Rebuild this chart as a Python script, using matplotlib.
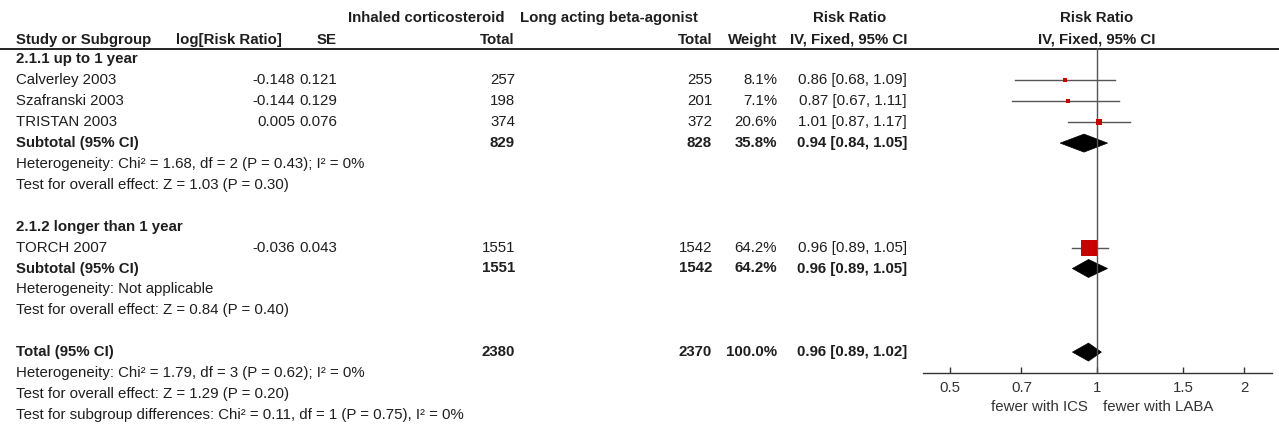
import matplotlib
matplotlib.use("Agg")
import matplotlib.pyplot as plt
from matplotlib.patches import Polygon

# ---- data ----
studies = ["Calverley 2003", "Szafranski 2003", "TRISTAN 2003", "TORCH 2007"]
study_group = [0, 0, 0, 1]
log_rr = ["-0.148", "-0.144", "0.005", "-0.036"]
se = ["0.121", "0.129", "0.076", "0.043"]
ics_total = [257, 198, 374, 1551]
laba_total = [255, 201, 372, 1542]
weight = [8.1, 7.1, 20.6, 64.2]
rr = [0.86, 0.87, 1.01, 0.96]
rr_lo = [0.68, 0.67, 0.87, 0.89]
rr_hi = [1.09, 1.11, 1.17, 1.05]

groups = ["2.1.1 up to 1 year", "2.1.2 longer than 1 year"]
sub_ics = [829, 1551]
sub_laba = [828, 1542]
sub_weight = [35.8, 64.2]
sub_rr = [0.94, 0.96]
sub_lo = [0.84, 0.89]
sub_hi = [1.05, 1.05]
sub_het = ["Heterogeneity: Chi\u00b2 = 1.68, df = 2 (P = 0.43); I\u00b2 = 0%",
           "Heterogeneity: Not applicable"]
sub_test = ["Test for overall effect: Z = 1.03 (P = 0.30)",
            "Test for overall effect: Z = 0.84 (P = 0.40)"]

tot_ics = 2380
tot_laba = 2370
tot_weight = 100.0
tot_rr = 0.96
tot_lo = 0.89
tot_hi = 1.02
tot_notes = ["Heterogeneity: Chi\u00b2 = 1.79, df = 3 (P = 0.62); I\u00b2 = 0%",
             "Test for overall effect: Z = 1.29 (P = 0.20)",
             "Test for subgroup differences: Chi\u00b2 = 0.11, df = 1 (P = 0.75), I\u00b2 = 0%"]

xticks = [0.5, 0.7, 1, 1.5, 2]
xtick_labels = ["0.5", "0.7", "1", "1.5", "2"]
left_label = "fewer with ICS"
right_label = "fewer with LABA"

# ---- layout (pixels) ----
W, H = 1279, 430
FS = 10.8
TXT = "#1e1e1e"
RED = "#c80000"
plt.rcParams["font.family"] = ["Liberation Sans", "DejaVu Sans"]

row0, dy = 59.5, 20.9
def row_y(i):
    return row0 + i * dy

# column anchors
X_NAME = 16
X_LOG = 295
X_SE = 337
X_ICS = 515
X_LABA = 712
X_WT = 777
X_CI = 907
X_ONE = 1097

fig = plt.figure(figsize=(W / 100, H / 100), dpi=100)
tx = fig.add_axes([0, 0, 1, 1])
tx.set_xlim(0, W)
tx.set_ylim(H, 0)
tx.axis("off")

# forest axes sits on the right, sharing the pixel rows
AX_L, AX_R, AX_T, AX_B = 923, 1272, 48, 373
fx = fig.add_axes([AX_L / W, 1 - AX_B / H, (AX_R - AX_L) / W, (AX_B - AX_T) / H])
fx.set_xscale("log")
fx.set_xlim(0.44, 2.28)
fx.set_ylim(AX_B, AX_T)
fx.patch.set_alpha(0)
for s in ["top", "left", "right"]:
    fx.spines[s].set_visible(False)
fx.spines["bottom"].set_color("#333333")
fx.spines["bottom"].set_linewidth(1.0)
fx.set_yticks([])
fx.minorticks_off()
fx.set_xticks(xticks)
fx.set_xticklabels(xtick_labels)
fx.tick_params(axis="x", direction="in", length=4, width=1, color="#333333",
               labelsize=FS, labelcolor="#333333", pad=6)
fx.axvline(1, color="#555555", lw=1.0)


def txt(x, y, s, ha="left", bold=False, color=TXT):
    tx.text(x, y, s, ha=ha, va="center", fontsize=FS, color=color,
            fontweight="bold" if bold else "normal")


def diamond(y, est, lo, hi):
    h = 9
    fx.add_patch(Polygon([(lo, y), (est, y - h), (hi, y), (est, y + h)],
                         closed=True, facecolor="black", edgecolor="black", lw=0.5))


# ---- header ----
txt(505, 18, "Inhaled corticosteroid", ha="right", bold=True)
txt(520, 18, "Long acting beta-agonist", bold=True)
txt(850, 18, "Risk Ratio", ha="center", bold=True)
txt(X_ONE, 18, "Risk Ratio", ha="center", bold=True)
txt(X_NAME, 40, "Study or Subgroup", bold=True)
txt(282, 40, "log[Risk Ratio]", ha="right", bold=True)
txt(X_SE, 40, "SE", ha="right", bold=True)
txt(X_ICS, 40, "Total", ha="right", bold=True)
txt(X_LABA, 40, "Total", ha="right", bold=True)
txt(X_WT, 40, "Weight", ha="right", bold=True)
txt(X_CI, 40, "IV, Fixed, 95% CI", ha="right", bold=True)
txt(X_ONE, 40, "IV, Fixed, 95% CI", ha="center", bold=True)
tx.plot([0, W], [48.5, 48.5], color="#111111", lw=1.3)

# ---- body ----
r = 0
for g in range(len(groups)):
    txt(X_NAME, row_y(r), groups[g], bold=True)
    r += 1
    for i in range(len(studies)):
        if study_group[i] != g:
            continue
        y = row_y(r)
        txt(X_NAME, y, studies[i])
        txt(X_LOG, y, log_rr[i], ha="right")
        txt(X_SE, y, se[i], ha="right")
        txt(X_ICS, y, str(ics_total[i]), ha="right")
        txt(X_LABA, y, str(laba_total[i]), ha="right")
        txt(X_WT, y, "%.1f%%" % weight[i], ha="right")
        txt(X_CI, y, "%.2f [%.2f, %.2f]" % (rr[i], rr_lo[i], rr_hi[i]), ha="right")
        fx.plot([rr_lo[i], rr_hi[i]], [y, y], color="#555555", lw=1.0)
        side = 2 + 0.22 * weight[i]  # px
        fx.scatter([rr[i]], [y], marker="s", s=(side * 0.72) ** 2,
                   color=RED, linewidths=0, zorder=3)
        r += 1
    y = row_y(r)
    txt(X_NAME, y, "Subtotal (95% CI)", bold=True)
    txt(X_ICS, y, str(sub_ics[g]), ha="right", bold=True)
    txt(X_LABA, y, str(sub_laba[g]), ha="right", bold=True)
    txt(X_WT, y, "%.1f%%" % sub_weight[g], ha="right", bold=True)
    txt(X_CI, y, "%.2f [%.2f, %.2f]" % (sub_rr[g], sub_lo[g], sub_hi[g]), ha="right", bold=True)
    diamond(y, sub_rr[g], sub_lo[g], sub_hi[g])
    r += 1
    txt(X_NAME, row_y(r), sub_het[g])
    r += 1
    txt(X_NAME, row_y(r), sub_test[g])
    r += 2

y = row_y(r)
txt(X_NAME, y, "Total (95% CI)", bold=True)
txt(X_ICS, y, str(tot_ics), ha="right", bold=True)
txt(X_LABA, y, str(tot_laba), ha="right", bold=True)
txt(X_WT, y, "%.1f%%" % tot_weight, ha="right", bold=True)
txt(X_CI, y, "%.2f [%.2f, %.2f]" % (tot_rr, tot_lo, tot_hi), ha="right", bold=True)
diamond(y, tot_rr, tot_lo, tot_hi)
for note in tot_notes:
    r += 1
    txt(X_NAME, row_y(r), note)

# favours labels under the axis
txt(X_ONE - 9, 407, left_label, ha="right", color="#333333")
txt(X_ONE + 6, 407, right_label, color="#333333")

fig.savefig("out.png", dpi=100)
